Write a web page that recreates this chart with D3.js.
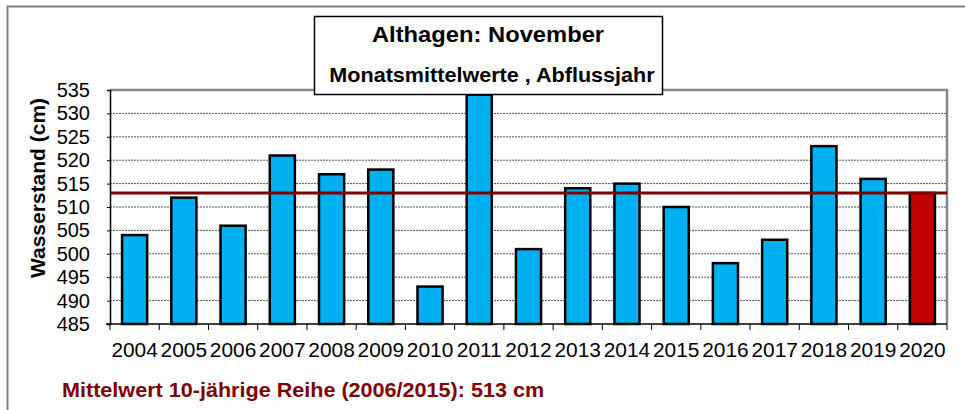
<!DOCTYPE html>
<html>
<head>
<meta charset="utf-8">
<script src="https://cdn.jsdelivr.net/npm/d3@7"></script>
<style>
  body { margin: 0; background: #fff; }
  text { font-family: "Liberation Sans", Arial, sans-serif; }
</style>
</head>
<body>
<script>
// Jahre (Kategorien)
var years = ["2004","2005","2006","2007","2008","2009","2010","2011","2012",
             "2013","2014","2015","2016","2017","2018","2019","2020"];
// Monatsmittelwerte November (cm)
var values = [504, 512, 506, 521, 517, 518, 493, 534, 501,
              514, 515, 510, 498, 503, 523, 516, 513];
// y-Achse
var yTicks = [485, 490, 495, 500, 505, 510, 515, 520, 525, 530, 535];
// Mittelwert 10-jährige Reihe
var meanValue = 513;

var width = 965, height = 410;
var plotLeft = 110, plotRight = 947, plotTop = 90, plotBottom = 324;
var sx = 1.08; // Schrift leicht in die Breite gezogen

var svg = d3.select("body").append("svg")
    .attr("width", width)
    .attr("height", height);

// äußerer Rahmen
svg.append("path")
    .attr("d", "M7.5," + height + " L7.5,6.5 L" + width + ",6.5")
    .attr("fill", "none")
    .attr("stroke", "#808080")
    .attr("stroke-width", 2);

var x = d3.scaleBand().domain(years).range([plotLeft, plotRight]).paddingInner(0.49).paddingOuter(0.245);
var y = d3.scaleLinear().domain([485, 535]).range([plotBottom, plotTop]);

// Gitterlinien
svg.append("g").selectAll("line")
    .data(yTicks.slice(1, -1))
    .enter().append("line")
    .attr("x1", plotLeft).attr("x2", plotRight)
    .attr("y1", function(d) { return y(d); })
    .attr("y2", function(d) { return y(d); })
    .attr("stroke", "#555")
    .attr("stroke-width", 1)
    .attr("stroke-dasharray", "2,1");

// Rahmen Plotbereich oben/rechts
svg.append("path")
    .attr("d", "M" + plotLeft + "," + plotTop + " L" + plotRight + "," + plotTop + " L" + plotRight + "," + plotBottom)
    .attr("fill", "none")
    .attr("stroke", "#888")
    .attr("stroke-width", 2.5);

// Balken
svg.append("g").selectAll("rect")
    .data(values)
    .enter().append("rect")
    .attr("x", function(d, i) { return x(years[i]); })
    .attr("y", function(d) { return y(d); })
    .attr("width", x.bandwidth())
    .attr("height", function(d) { return y(485) - y(d); })
    .attr("fill", function(d, i) { return i == years.length - 1 ? "#C00000" : "#00B0F0"; })
    .attr("stroke", "#000")
    .attr("stroke-width", 2.5);

// Mittelwertlinie
svg.append("line")
    .attr("x1", plotLeft).attr("x2", plotRight)
    .attr("y1", y(meanValue)).attr("y2", y(meanValue))
    .attr("stroke", "#800000")
    .attr("stroke-width", 3);

// y-Achse
var yAxis = svg.append("g")
    .attr("transform", "translate(" + plotLeft + ",0)")
    .call(d3.axisLeft(y).tickValues(yTicks).tickSize(3).tickPadding(17));
yAxis.select(".domain").attr("stroke", "#000").attr("stroke-width", 1.5);
yAxis.selectAll("text").style("font-size", "20px").attr("fill", "#000");

// x-Achse
var xTickPos = years.map(function(d, i) { return plotLeft + i * (plotRight - plotLeft) / years.length; }).concat([plotRight]);
var xAxis = svg.append("g");
xAxis.append("line")
    .attr("x1", plotLeft - 4).attr("x2", plotRight)
    .attr("y1", plotBottom).attr("y2", plotBottom)
    .attr("stroke", "#000").attr("stroke-width", 1.5);
xAxis.selectAll(".tick").data(xTickPos).enter().append("line")
    .attr("x1", function(d) { return d; }).attr("x2", function(d) { return d; })
    .attr("y1", plotBottom).attr("y2", plotBottom + 6)
    .attr("stroke", "#000").attr("stroke-width", 1);
xAxis.selectAll("text").data(years).enter().append("text")
    .attr("transform", function(d) {
        return "translate(" + (x(d) + x.bandwidth() / 2) + ",357) scale(1.02,1)";
    })
    .attr("text-anchor", "middle")
    .style("font-size", "20.5px")
    .text(function(d) { return d; });

// y-Achsentitel
svg.append("text")
    .attr("transform", "translate(45,188) rotate(-90)")
    .attr("text-anchor", "middle")
    .style("font-size", "21px")
    .style("font-weight", "bold")
    .text("Wasserstand (cm)");

// Titelbox
svg.append("rect")
    .attr("x", 314.5).attr("y", 16.5)
    .attr("width", 348).attr("height", 78)
    .attr("fill", "#fff")
    .attr("stroke", "#000")
    .attr("stroke-width", 1.5);
svg.append("text")
    .attr("transform", "translate(488,42) scale(" + sx + ",1)")
    .attr("text-anchor", "middle")
    .style("font-size", "22px")
    .style("font-weight", "bold")
    .text("Althagen: November");
svg.append("text")
    .attr("transform", "translate(492,82) scale(" + sx + ",1)")
    .attr("text-anchor", "middle")
    .style("font-size", "20px")
    .style("font-weight", "bold")
    .text("Monatsmittelwerte , Abflussjahr");

// Fußzeile
svg.append("text")
    .attr("transform", "translate(62,397) scale(" + sx + ",1)")
    .style("font-size", "20px")
    .style("font-weight", "bold")
    .attr("fill", "#800000")
    .text("Mittelwert 10-jährige Reihe (2006/2015): 513 cm");
</script>
</body>
</html>
